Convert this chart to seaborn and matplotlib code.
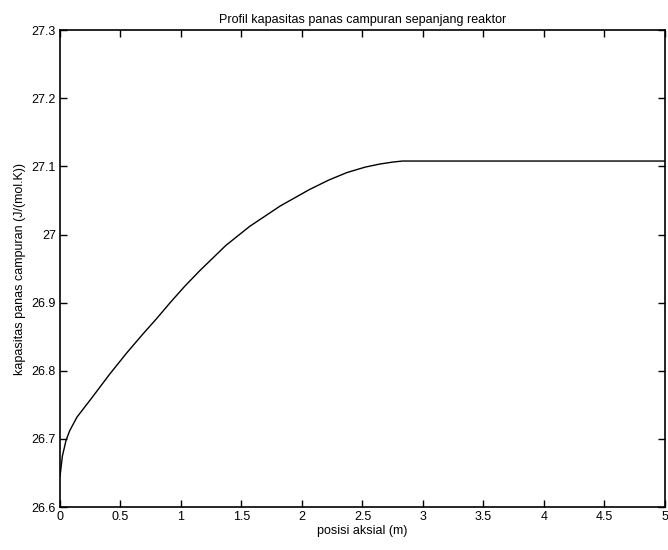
import matplotlib
matplotlib.use("Agg")
import matplotlib.pyplot as plt
import seaborn as sns
import pandas as pd

x_pos = [0.0, 0.02, 0.05, 0.08, 0.14, 0.27, 0.41, 0.55, 0.68, 0.80, 0.91, 1.03,
         1.155, 1.37, 1.567, 1.82, 2.06, 2.22, 2.37, 2.52, 2.64, 2.75, 2.83, 5.0]
cp_mix = [26.645, 26.675, 26.698, 26.712, 26.732, 26.762, 26.795, 26.826, 26.853,
          26.877, 26.900, 26.924, 26.947, 26.984, 27.012, 27.042, 27.066, 27.080,
          27.091, 27.099, 27.1035, 27.1065, 27.108, 27.108]
x_ticks = [0, 0.5, 1, 1.5, 2, 2.5, 3, 3.5, 4, 4.5, 5]
x_ticklabels = ["0", "0.5", "1", "1.5", "2", "2.5", "3", "3.5", "4", "4.5", "5"]
y_ticks = [26.6, 26.7, 26.8, 26.9, 27.0, 27.1, 27.2, 27.3]
y_ticklabels = ["26.6", "26.7", "26.8", "26.9", "27", "27.1", "27.2", "27.3"]

sns.set_theme(style="white")
plt.rcParams['font.family'] = ['Liberation Sans', 'DejaVu Sans']

df = pd.DataFrame({"x": x_pos, "y": cp_mix})

fig = plt.figure(figsize=(6.68, 5.5), dpi=100)
ax = fig.add_axes([0.0898, 0.078, 0.9057, 0.867])
sns.lineplot(data=df, x="x", y="y", ax=ax, color="black", linewidth=1.0)

ax.set_xlim(0, 5)
ax.set_ylim(26.6, 27.3)
ax.set_xticks(x_ticks)
ax.set_xticklabels(x_ticklabels)
ax.set_yticks(y_ticks)
ax.set_yticklabels(y_ticklabels)
ax.tick_params(direction="in", length=5, width=1, top=True, right=True,
               bottom=True, left=True, labelsize=9, colors="black", pad=3)
for s in ax.spines.values():
    s.set_color("black")
    s.set_linewidth(1.2)
ax.set_xlabel("posisi aksial (m)", fontsize=9, color="black", labelpad=1)
ax.set_ylabel("kapasitas panas campuran (J/(mol.K))", fontsize=9, color="black", labelpad=4)
ax.set_title("Profil kapasitas panas campuran sepanjang reaktor", fontsize=9, color="black", pad=5)

fig.savefig("out.png", dpi=100)
